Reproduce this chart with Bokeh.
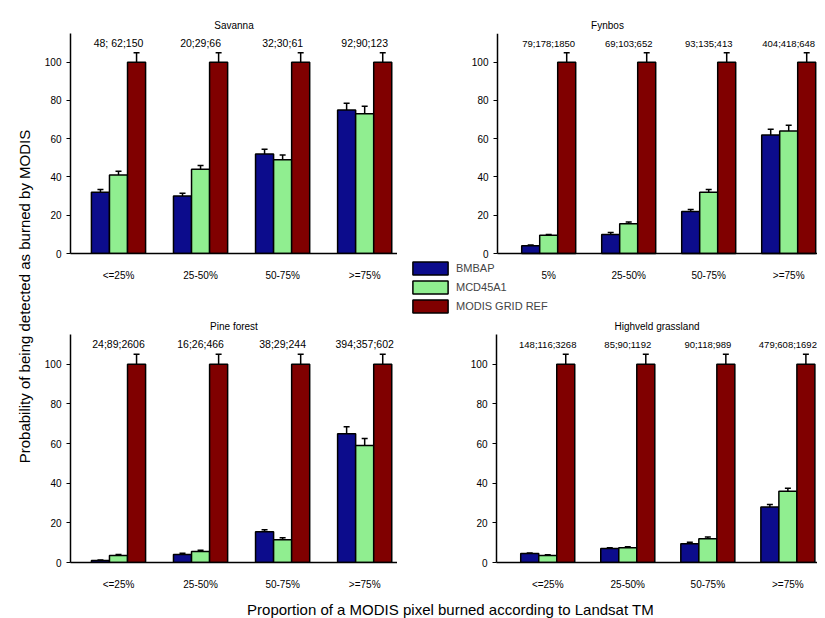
from bokeh.plotting import figure
from bokeh.layouts import row, column
from bokeh.models import ColumnDataSource, Whisker, TeeHead, Legend, LegendItem, Range1d
from bokeh.core.properties import value
from bokeh.embed import file_html
from bokeh.resources import INLINE

series = ["BMBAP", "MCD45A1", "MODIS GRID REF"]
colors = ["#0c0c8c", "#90ee90", "#800000"]
labels_std = ["<=25%", "25-50%", "50-75%", ">=75%"]
labels_fyn = ["5%", "25-50%", "50-75%", ">=75%"]

sav_b = [32, 30, 52, 75]; sav_g = [41, 44, 49, 73]
sav_eb = [1.5, 1.5, 2.5, 3.5]; sav_eg = [2, 2, 2.5, 4]
sav_n = ["48; 62;150", "20;29;66", "32;30;61", "92;90;123"]
fyn_b = [4, 10, 22, 62]; fyn_g = [9.5, 15.5, 32, 64]
fyn_eb = [0.5, 1, 1, 3]; fyn_eg = [0.5, 1, 1.5, 3]
fyn_n = ["79;178;1850", "69;103;652", "93;135;413", "404;418;648"]
pin_b = [1, 4, 15.5, 65]; pin_g = [3.5, 5.5, 11.5, 59]
pin_eb = [0.3, 0.7, 1, 3.5]; pin_eg = [0.5, 0.7, 1, 3.5]
pin_n = ["24;89;2606", "16;26;466", "38;29;244", "394;357;602"]
hig_b = [4.5, 7, 9.5, 28]; hig_g = [3.5, 7.5, 12, 36]
hig_eb = [0.3, 0.5, 0.7, 1.2]; hig_eg = [0.4, 0.5, 0.8, 1.5]
hig_n = ["148;116;3268", "85;90;1192", "90;118;989", "479;608;1692"]
ref = [100, 100, 100, 100]
ref_err = [5, 5, 5, 5]

FONT = "Liberation Sans"

def panel(title, b, g, eb, eg, counts, xlabels, size, bl, bb, bt, xr, cfs, w,
          yr=(0, 115), fixed=None, frame=False):
    kw = dict(frame_width=size[0], frame_height=size[1]) if frame else dict(width=size[0], height=size[1])
    p = figure(output_backend="svg", toolbar_location=None,
               x_range=Range1d(*xr), y_range=Range1d(*yr),
               min_border_left=bl, min_border_right=0, min_border_bottom=bb, min_border_top=bt,
               title=title, **kw)
    p.title.align = "center"; p.title.text_font = FONT; p.title.text_font_size = "10px"
    p.title.text_font_style = "normal"; p.title.standoff = 6; p.title.text_color = "black"
    p.outline_line_color = None
    p.grid.visible = False
    rends = []
    for k, (vals, errs) in enumerate([(b, eb), (g, eg), (ref, ref_err)]):
        xs = [i + (k - 1) * w for i in range(4)]
        src = ColumnDataSource(dict(x=xs, top=vals, lo=[v - e for v, e in zip(vals, errs)],
                                    hi=[v + e for v, e in zip(vals, errs)]))
        r = p.vbar(x="x", top="top", width=w, bottom=0, source=src, fill_color=colors[k],
                   line_color="black", line_width=1.5)
        rends.append(r)
        p.add_layout(Whisker(base="x", lower="lo", upper="hi", source=src, line_width=1.5,
                             upper_head=TeeHead(size=6, line_width=1.5),
                             lower_head=TeeHead(size=6, line_width=1.5)))
    p.text(x=list(range(4)), y=[107] * 4, text=counts, text_align="center",
           text_baseline="bottom", text_font=value(FONT), text_font_size=cfs)
    p.xaxis.ticker = [0, 1, 2, 3]
    p.xaxis.major_label_overrides = {i: l for i, l in enumerate(xlabels)}
    p.xaxis.major_tick_line_color = None
    p.xaxis.minor_tick_line_color = None
    p.yaxis.ticker = [0, 20, 40, 60, 80, 100]
    p.yaxis.minor_tick_line_color = None
    p.yaxis.major_tick_in = 0; p.yaxis.major_tick_out = 4
    for ax in (p.xaxis, p.yaxis):
        ax.axis_line_width = 1.5
        ax.major_label_text_font = FONT
        ax.major_label_text_font_size = "10px"
        ax.major_label_text_color = "black"
    p.xaxis.major_label_standoff = 10
    if fixed is not None:
        p.yaxis.fixed_location = fixed
        p.yaxis.bounds = (0, yr[1])
        p.xaxis.fixed_location = 0
        p.xaxis.bounds = (fixed, xr[1])
    return p, rends

LW, RW = 357, 410
TH, BH = 315, 277
lxr = (-0.585, 3.4)
rxr = (-0.64, 3.37)

p1, _ = panel("Savanna", sav_b, sav_g, sav_eb, sav_eg, sav_n, labels_std, (LW, TH), 30, 62, 33, lxr, "10.5px", 0.22)
p2, rends = panel("Fynbos", fyn_b, fyn_g, fyn_eb, fyn_eg, fyn_n, labels_fyn, (420, 282), 0, 0, 33,
                  (-1.89, 3.36), "9.5px", 0.225, yr=(-32.4, 115), fixed=-0.64, frame=True)
p3, _ = panel("Pine forest", pin_b, pin_g, pin_eb, pin_eg, pin_n, labels_std, (LW, BH), 30, 25, 17, lxr, "10.5px", 0.22)
p4, _ = panel("Highveld grassland", hig_b, hig_g, hig_eb, hig_eg, hig_n, labels_std, (RW, BH), 89, 25, 17, rxr, "9.5px", 0.225)

leg = Legend(items=[LegendItem(label=s, renderers=[r]) for s, r in zip(series, rends)],
             location=(11, 1), background_fill_alpha=0, border_line_color=None,
             label_text_font=FONT, label_text_font_size="11px", glyph_width=44,
             glyph_height=16, spacing=3, padding=0, margin=0, label_standoff=4)
p2.add_layout(leg, "center")

yl = figure(width=40, height=TH + BH, output_backend="svg", toolbar_location=None,
            x_range=Range1d(0, 1), y_range=Range1d(0, 1), min_border=0)
yl.axis.visible = False; yl.grid.visible = False; yl.outline_line_color = None
yl.text(x=[0.6], y=[0.5], text=["Probability of being detected as burned by MODIS"], angle=1.5708,
        text_align="center", text_baseline="middle", text_font=value(FONT), text_font_size="15px")

xl = figure(width=817, height=28, output_backend="svg", toolbar_location=None,
            x_range=Range1d(0, 817), y_range=Range1d(0, 1), min_border=0)
xl.axis.visible = False; xl.grid.visible = False; xl.outline_line_color = None
xl.text(x=[450], y=[0.4], text=["Proportion of a MODIS pixel burned according to Landsat TM"],
        text_align="center", text_baseline="middle", text_font=value(FONT), text_font_size="15px")

gap2 = figure(width=10, height=10, toolbar_location=None, output_backend="svg", min_border=0)
gap2.outline_line_color = None; gap2.axis.visible = False; gap2.grid.visible = False

layout = column(row(yl, column(row(p1, p2), row(p3, gap2, p4))), xl, spacing=0)
open("out.html", "w").write(file_html(layout, INLINE))
